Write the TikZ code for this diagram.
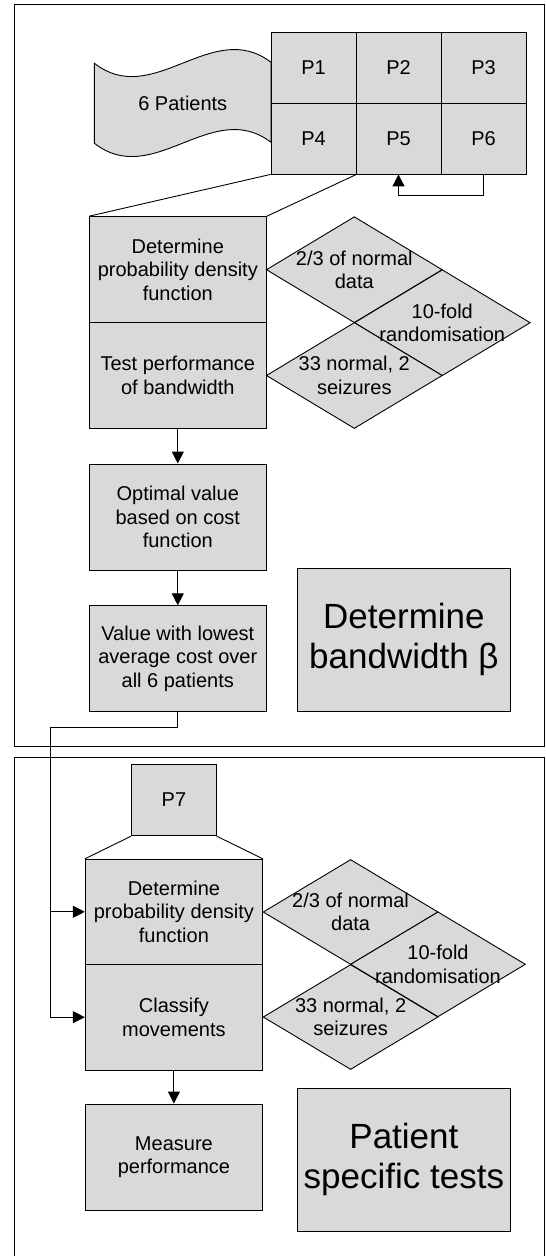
\documentclass[tikz,border=0pt]{standalone}
\usepackage{fontspec}
\setmainfont{Liberation Sans}
\usetikzlibrary{shapes.geometric,arrows.meta}
\definecolor{boxfill}{RGB}{217,217,217}
\begin{document}
\begin{tikzpicture}[x=1pt,y=-1pt,
  ln/.style={line width=0.9pt},
  cell/.style={draw,ln,fill=boxfill,inner sep=0pt,align=center,font=\fontsize{20}{23.5}\selectfont},
  dia/.style={diamond,draw,ln,fill=boxfill,inner sep=0pt,minimum width=176pt,minimum height=106pt},
  lbl/.style={inner sep=0pt,align=center,font=\fontsize{20}{23.5}\selectfont},
  ttl/.style={cell,font=\fontsize{35}{40}\selectfont},
  arr/.style={ln,-{Triangle[width=12pt,length=12pt]}}]
\useasboundingbox (0,0) rectangle (546,1256);
% frames
\draw[ln] (14.8,4.3) rectangle (544.7,746.5);
\draw[ln] (14.8,1262) -- (14.8,757.7) -- (544.7,757.7) -- (544.7,1262);
% wave
\draw[ln,fill=boxfill] (94.4,63.3) .. controls (153.3,109.3) and (212.1,17.3) .. (271,62.3)
  -- (271,142.3) .. controls (212.1,97.3) and (153.3,189.3) .. (94.4,143.3) -- cycle;
\node[lbl] (wave) at (182.8,103.3) {6 Patients};
% grid
\node[cell,minimum width=85pt,minimum height=70.75pt] (P1) at (313.5,67.9) {P1};
\node[cell,minimum width=85pt,minimum height=70.75pt] (P2) at (398.5,67.9) {P2};
\node[cell,minimum width=85pt,minimum height=70.75pt] (P3) at (483.5,67.9) {P3};
\node[cell,minimum width=85pt,minimum height=70.75pt] (P4) at (313.5,138.6) {P4};
\node[cell,minimum width=85pt,minimum height=70.75pt] (P5) at (398.5,138.6) {P5};
\node[cell,minimum width=85pt,minimum height=70.75pt] (P6) at (483.5,138.6) {P6};
\draw[arr] (P6.south) -- ++(0,21) -| (P5.south);
% upper process
\node[cell,minimum width=177pt,minimum height=106pt] (b1a) at (177.8,269.7) {Determine\\probability density\\function};
\node[cell,minimum width=177pt,minimum height=105.6pt] (b1b) at (177.8,375.5) {Test performance\\of bandwidth};
\draw[ln] (P4.south west) -- (b1a.north west);
\draw[ln] (P4.south east) -- (b1a.north east);
\node[dia] (d1a) at (354.3,269.7) {};
\node[dia] (d1b) at (442.3,322.7) {};
\node[dia] (d1c) at (354.3,375.5) {};
\node[lbl] (t1a) at (d1a) {2/3 of normal\\data};
\node[lbl] (t1b) at (d1b) {10-fold\\randomisation};
\node[lbl] (t1c) at (d1c) {33 normal, 2\\seizures};
\node[cell,minimum width=177pt,minimum height=106pt] (opt) at (177.8,517) {Optimal value\\based on cost\\function};
\node[cell,minimum width=177pt,minimum height=105.3pt] (val) at (177.8,658.4) {Value with lowest\\average cost over\\all 6 patients};
\draw[arr] (b1b.south) -- (opt.north);
\draw[arr] (opt.south) -- (val.north);
\node[ttl,minimum width=212.3pt,minimum height=142.7pt] (title1) at (403.9,639.7) {Determine\\bandwidth β};
% lower process
\node[cell,minimum width=84.6pt,minimum height=71.4pt] (P7) at (173.9,800) {P7};
\node[cell,minimum width=177.2pt,minimum height=105pt] (b2a) at (173.9,911.8) {Determine\\probability density\\function};
\node[cell,minimum width=177.2pt,minimum height=105.7pt] (b2b) at (173.9,1017.2) {Classify\\movements};
\draw[ln] (P7.south west) -- (b2a.north west);
\draw[ln] (P7.south east) -- (b2a.north east);
\node[dia,minimum width=175pt,minimum height=105pt] (d2a) at (350.6,912) {};
\node[dia,minimum width=175pt,minimum height=105pt] (d2b) at (438,964.3) {};
\node[dia,minimum width=175pt,minimum height=105pt] (d2c) at (350.6,1017) {};
\node[lbl] (t2a) at (d2a) {2/3 of normal\\data};
\node[lbl] (t2b) at (d2b) {10-fold\\randomisation};
\node[lbl] (t2c) at (d2c) {33 normal, 2\\seizures};
\node[cell,minimum width=177.2pt,minimum height=106pt] (meas) at (173.9,1157) {Measure\\performance};
\draw[arr] (b2b.south) -- (meas.north);
\node[ttl,minimum width=212.4pt,minimum height=142.7pt] (title2) at (403.9,1159.7) {Patient\\specific tests};
% connector between sections
\coordinate (j1) at (50.3,727);
\draw[arr] (val.south) |- (j1) |- (b2b.west);
\draw[arr] (j1 |- b2a.west) -- (b2a.west);
\end{tikzpicture}
\end{document}
